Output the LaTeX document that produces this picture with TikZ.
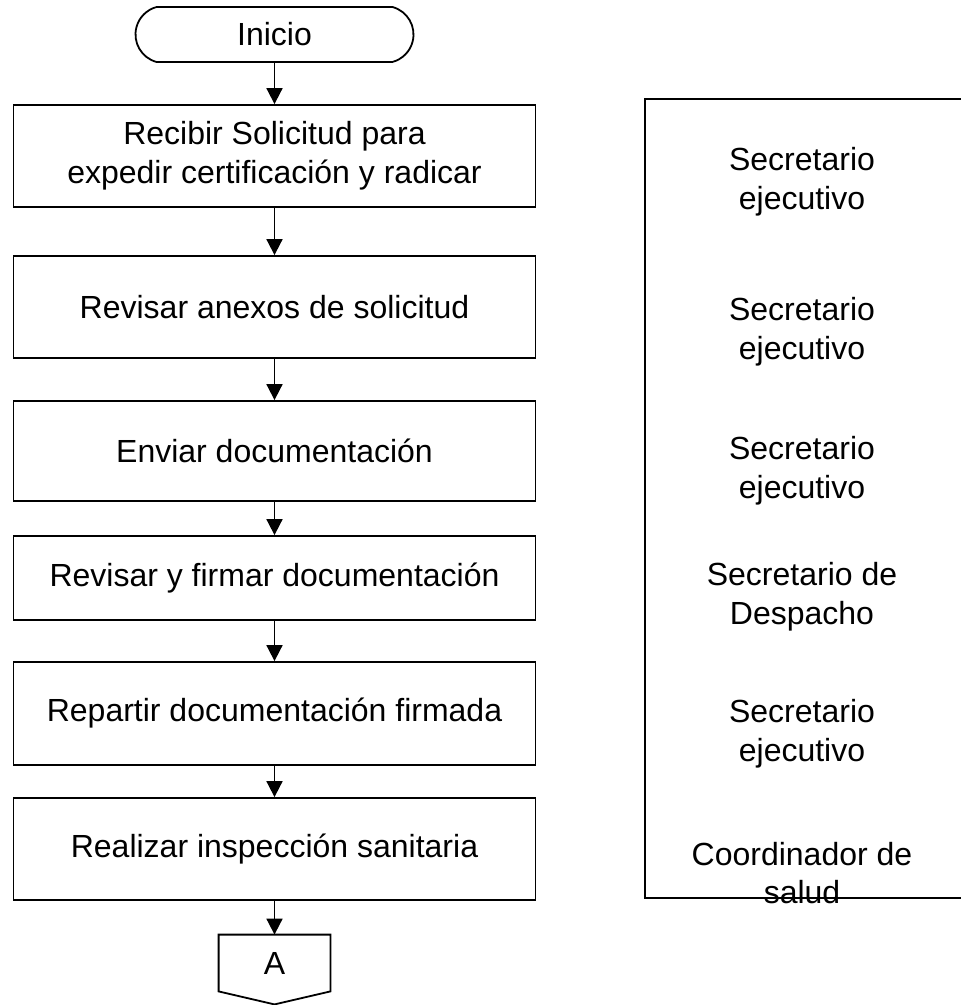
\documentclass[tikz,border=0pt]{standalone}
\usepackage{fontspec}
\setmainfont{Liberation Sans}
\usetikzlibrary{shapes.misc,arrows.meta}
\begin{document}
\begin{tikzpicture}[x=0.5pt,y=-0.5pt]
			\tikzset{letra/.style={font=\fontsize{16}{19.3}\selectfont},
				caja/.style={draw, line width=0.9pt, letra, align=center, inner sep=0pt, minimum width=261pt, minimum height=51pt},
				terminal/.style={draw, rounded rectangle, rounded rectangle arc length=150, line width=0.9pt, letra, inner sep=0pt, minimum width=139pt, minimum height=27.5pt},
				flecha/.style={-{Triangle[width=8pt,length=8pt]}, line width=0.9pt},
				cargo/.style={letra, align=center}};
			\useasboundingbox (0,0) rectangle (960,1005);
			% columna de actividades
			\node[terminal] (inicio) at (274.5,34.5) {Inicio};
			\node[caja] (recibir) at (274.5,156) {Recibir Solicitud para\\expedir certificación y radicar};
			\node[caja] (anexos) at (274.5,307) {Revisar anexos de solicitud};
			\node[caja, minimum height=50pt] (enviar) at (274.5,451) {Enviar documentación};
			\node[caja, minimum height=42pt] (firmar) at (274.5,578) {Revisar y firmar documentación};
			\node[caja, minimum height=51.5pt] (repartir) at (274.5,713.5) {Repartir documentación firmada};
			\node[caja] (inspeccion) at (274.5,849) {Realizar inspección sanitaria};
			\node[letra, minimum width=55.5pt, minimum height=28pt, inner sep=0pt] (conA) at (274.5,963) {A};
			\draw[line width=0.9pt] (conA.north west) -- (conA.north east) -- (conA.south east) -- ([yshift=-6.5pt]conA.south) -- (conA.south west) -- cycle;
			\draw[flecha] (inicio.south) -- (recibir.north);
			\draw[flecha] (recibir.south) -- (anexos.north);
			\draw[flecha] (anexos.south) -- (enviar.north);
			\draw[flecha] (enviar.south) -- (firmar.north);
			\draw[flecha] (firmar.south) -- (repartir.north);
			\draw[flecha] (repartir.south) -- (inspeccion.north);
			\draw[flecha] (inspeccion.south) -- (conA.north);
			% columna de responsables
			\draw[line width=0.9pt] (645,99) rectangle (968,898);
			\node[cargo] (resp1) at (802,182) {Secretario\\ejecutivo};
			\node[cargo] (resp2) at (802,332) {Secretario\\ejecutivo};
			\node[cargo] (resp3) at (802,471) {Secretario\\ejecutivo};
			\node[cargo] (resp4) at (802,597) {Secretario de\\Despacho};
			\node[cargo] (resp5) at (802,734) {Secretario\\ejecutivo};
			\node[cargo] (resp6) at (802,873) {Coordinador de\\salud};
			\end{tikzpicture}
\end{document}
